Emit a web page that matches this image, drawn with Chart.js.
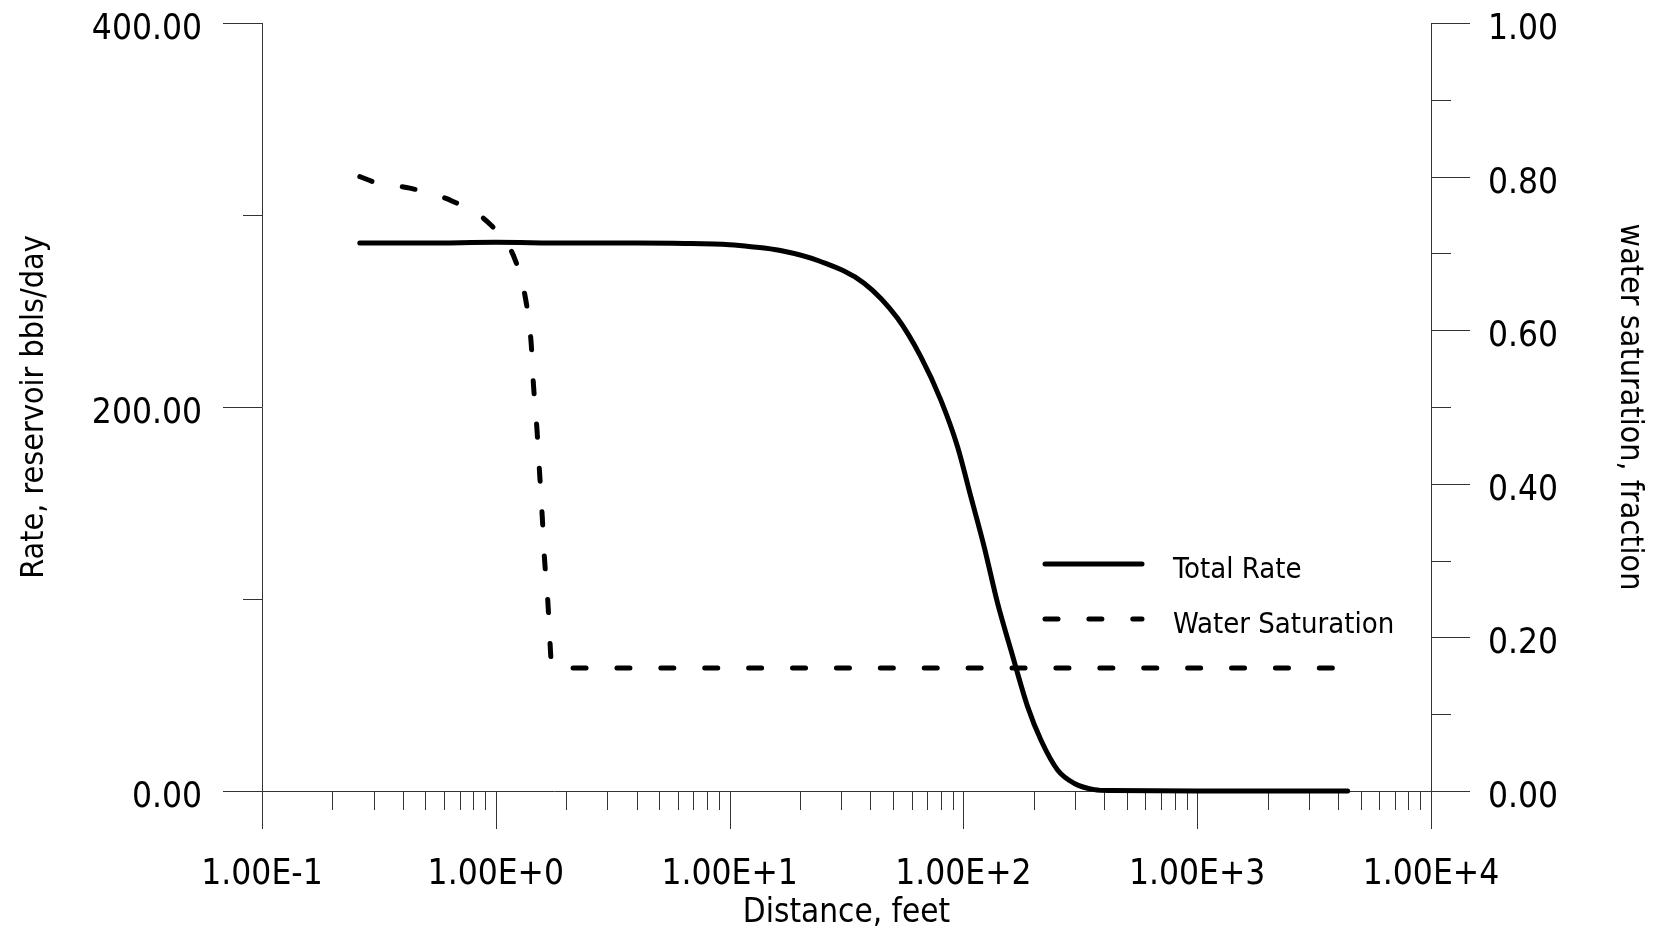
<!DOCTYPE html>
<html>
<head>
<meta charset="utf-8">
<title>Total Rate and Water Saturation vs Distance</title>
<script src="https://cdn.jsdelivr.net/npm/chart.js@4.4.1/dist/chart.umd.min.js"></script>
<style>
    html, body { margin: 0; padding: 0; background: #fff; }
    canvas { display: block; }
</style>
</head>
<body>
<canvas id="profileChart" width="1669" height="940"></canvas>
<script>
// Distance (feet) and total rate (reservoir bbls/day)
const rateDistance = [0.262, 0.5, 1.0, 2.0, 4.0, 6.4, 10, 12.35, 16.5, 24.5, 37.6, 52.2, 65.7, 80, 94.4, 107.6, 122.7, 140.1, 159.8, 188.4, 214.8, 253.3, 298.4, 363, 428.5, 1000, 4400];
const rateValues = [285.4, 285.4, 285.8, 285.4, 285.4, 285.2, 284.5, 283.5, 281.5, 275.8, 264.5, 246.3, 226.2, 203.7, 179.3, 153.3, 127.2, 97.7, 73.3, 43.8, 26.4, 10.8, 3.9, 0.7, 0.2, 0, 0];

// Distance (feet) and water saturation (fraction)
const satDistance = [0.262, 0.309, 0.429, 0.652, 0.945, 1.201, 1.344, 1.416, 1.449, 1.499, 1.538, 1.579, 1.615, 1.670, 1.708, 1.725, 1.813, 3865];
const satValues = [0.800, 0.792, 0.785, 0.768, 0.738, 0.694, 0.639, 0.584, 0.529, 0.472, 0.416, 0.359, 0.303, 0.246, 0.190, 0.170, 0.160, 0.160];

// Axis ticks and labels
const xTicks = [0.1, 1, 10, 100, 1000, 10000];
const xTickLabels = ['1.00E-1', '1.00E+0', '1.00E+1', '1.00E+2', '1.00E+3', '1.00E+4'];
const rateTicks = [0, 200, 400];
const rateTickLabels = ['0.00', '200.00', '400.00'];
const satTicks = [0, 0.2, 0.4, 0.6, 0.8, 1.0];
const satTickLabels = ['0.00', '0.20', '0.40', '0.60', '0.80', '1.00'];

const FONT = "'Liberation Sans Narrow', 'Arial Narrow', 'DejaVu Sans Condensed', sans-serif";
const AXIS_COLOR = '#333';

Chart.defaults.font.family = FONT;
Chart.defaults.color = '#000';

// Major and minor tick marks drawn against the chart's own scales
const tickMarks = {
    id: 'tickMarks',
    beforeDatasetsDraw(chart) {
        const {ctx, chartArea, scales} = chart;
        const {x, y, y2} = scales;
        ctx.save();
        ctx.strokeStyle = AXIS_COLOR;
        ctx.lineWidth = 1;
        ctx.beginPath();

        // x axis: decades long, 2..9 short
        for (let e = -1; e <= 4; e++) {
            const base = Math.pow(10, e);
            const px = Math.round(x.getPixelForValue(base)) + 0.5;
            ctx.moveTo(px, chartArea.bottom);
            ctx.lineTo(px, chartArea.bottom + 38);
            if (e === 4) break;
            for (let k = 2; k <= 9; k++) {
                const mx = Math.round(x.getPixelForValue(k * base)) + 0.5;
                ctx.moveTo(mx, chartArea.bottom);
                ctx.lineTo(mx, chartArea.bottom + 19);
            }
        }

        // left axis
        for (let v = 0; v <= 400; v += 100) {
            const py = Math.round(y.getPixelForValue(v)) + 0.5;
            const len = v % 200 === 0 ? 39 : 19;
            ctx.moveTo(chartArea.left - len, py);
            ctx.lineTo(chartArea.left, py);
        }

        // right axis
        for (let i = 0; i <= 10; i++) {
            const py = Math.round(y2.getPixelForValue(i / 10)) + 0.5;
            const len = i % 2 === 0 ? 39 : 20;
            ctx.moveTo(chartArea.right, py);
            ctx.lineTo(chartArea.right + len, py);
        }
        ctx.stroke();
        ctx.restore();
    }
};

// Legend drawn inside the plot, next to the curves
const lineLegend = {
    id: 'lineLegend',
    afterDraw(chart) {
        const {ctx} = chart;
        const rows = [564, 619];
        ctx.save();
        chart.data.datasets.forEach((ds, i) => {
            const yRow = rows[i];
            ctx.strokeStyle = ds.borderColor;
            ctx.lineWidth = ds.borderWidth;
            ctx.lineCap = 'round';
            ctx.setLineDash(ds.borderDash || []);
            ctx.beginPath();
            ctx.moveTo(1045, yRow);
            ctx.lineTo(1142, yRow);
            ctx.stroke();
            ctx.setLineDash([]);
            ctx.fillStyle = '#000';
            ctx.font = '29px ' + FONT;
            ctx.textAlign = 'left';
            ctx.textBaseline = 'middle';
            ctx.fillText(ds.label, 1173, yRow + 6);
        });
        ctx.restore();
    }
};

function makeAxisTicks(values) {
    return function(scale) {
        scale.ticks = values.map(v => ({ value: v }));
    };
}

const ctx = document.getElementById('profileChart');

new Chart(ctx, {
    type: 'line',
    data: {
        datasets: [
            {
                label: 'Total Rate',
                data: rateDistance.map((d, i) => ({ x: d, y: rateValues[i] })),
                yAxisID: 'y',
                borderColor: '#000',
                borderWidth: 5,
                pointRadius: 0,
                cubicInterpolationMode: 'monotone',
                borderCapStyle: 'round',
                borderJoinStyle: 'round',
                fill: false,
                clip: false
            },
            {
                label: 'Water Saturation',
                data: satDistance.map((d, i) => ({ x: d, y: satValues[i] })),
                yAxisID: 'y2',
                borderColor: '#000',
                borderWidth: 5,
                borderDash: [13, 30.9],
                pointRadius: 0,
                cubicInterpolationMode: 'monotone',
                borderCapStyle: 'round',
                borderJoinStyle: 'round',
                fill: false,
                clip: false
            }
        ]
    },
    options: {
        responsive: false,
        animation: false,
        events: [],
        layout: {
            padding: { top: 23, left: 0, right: 0, bottom: 0 }
        },
        plugins: {
            legend: { display: false },
            tooltip: { enabled: false },
            title: { display: false }
        },
        scales: {
            x: {
                type: 'logarithmic',
                position: 'bottom',
                min: 0.1,
                max: 10000,
                afterBuildTicks: makeAxisTicks(xTicks),
                afterFit: s => { s.height = 149; },
                // ticks are drawn by the tickMarks plugin; tickLength only sets label offset
                grid: { display: false, drawTicks: true, tickLength: 66 },
                border: { display: true, color: AXIS_COLOR, width: 1 },
                ticks: {
                    autoSkip: false,
                    maxRotation: 0,
                    padding: 0,
                    font: { size: 35, lineHeight: 1 },
                    callback: (value, index) => xTickLabels[index]
                },
                title: {
                    display: true,
                    text: 'Distance, feet',
                    font: { size: 33, lineHeight: 1 },
                    padding: { top: 0, bottom: 10 }
                }
            },
            y: {
                type: 'linear',
                position: 'left',
                min: 0,
                max: 400,
                afterBuildTicks: makeAxisTicks(rateTicks),
                afterFit: s => { s.width = 262; },
                grid: { display: false, drawTicks: true, tickLength: 60 },
                border: { display: true, color: AXIS_COLOR, width: 1 },
                ticks: {
                    padding: 0,
                    labelOffset: 7,
                    font: { size: 35, lineHeight: 1 },
                    callback: (value, index) => rateTickLabels[index]
                },
                title: {
                    display: true,
                    text: 'Rate, reservoir bbls/day',
                    font: { size: 32, lineHeight: 1 },
                    padding: { top: 19, bottom: 0 }
                }
            },
            y2: {
                type: 'linear',
                position: 'right',
                min: 0,
                max: 1,
                afterBuildTicks: makeAxisTicks(satTicks),
                afterFit: s => { s.width = 238; },
                grid: { display: false, drawTicks: true, tickLength: 57 },
                border: { display: true, color: AXIS_COLOR, width: 1 },
                ticks: {
                    padding: 0,
                    labelOffset: 7,
                    font: { size: 35, lineHeight: 1 },
                    callback: (value, index) => satTickLabels[index]
                },
                title: {
                    display: true,
                    text: 'water saturation, fraction',
                    font: { size: 32, lineHeight: 1 },
                    padding: { top: 24, bottom: 0 }
                }
            }
        }
    },
    plugins: [tickMarks, lineLegend]
});
</script>
</body>
</html>
